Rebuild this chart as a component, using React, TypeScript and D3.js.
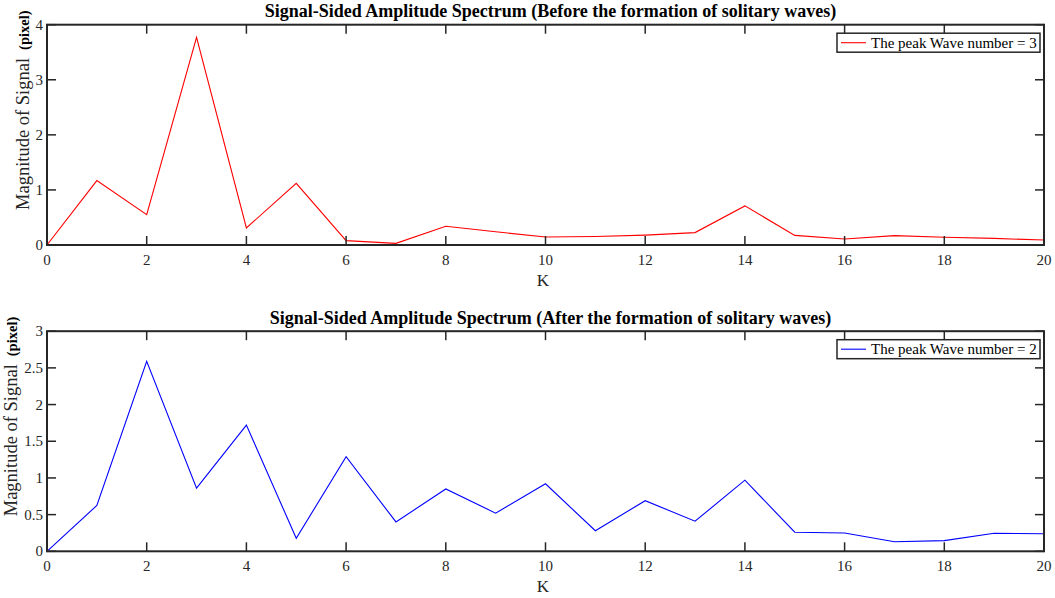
import { useEffect } from "react";
import * as d3 from "d3";

const kValues = d3.range(0, 21);

// amplitude spectrum before the solitary waves form (K = 0..20)
const beforeAmp = [
  0, 1.17, 0.55, 3.77, 0.31, 1.12, 0.08, 0.03, 0.34, 0.24, 0.145, 0.155, 0.18,
  0.225, 0.71, 0.175, 0.11, 0.17, 0.14, 0.12, 0.09,
];

// amplitude spectrum after the solitary waves form
const afterAmp = [
  0, 0.625, 2.59, 0.86, 1.72, 0.177, 1.29, 0.4, 0.85, 0.52, 0.92, 0.28, 0.69,
  0.41, 0.97, 0.26, 0.25, 0.13, 0.145, 0.245, 0.24,
];

const xTicks = [0, 2, 4, 6, 8, 10, 12, 14, 16, 18, 20];
const beforeYTicks = [0, 1, 2, 3, 4];
const afterYTicks = [0, 0.5, 1, 1.5, 2, 2.5, 3];

const titles = [
  "Signal-Sided Amplitude Spectrum (Before the formation of solitary waves)",
  "Signal-Sided Amplitude Spectrum (After the formation of solitary waves)",
];
const legendLabels = ["The peak Wave number = 3", "The peak Wave number = 2"];

const W = 1055;
const H = 598;
const FONT = "'Liberation Serif', 'Times New Roman', serif";
const AX = "#262626";

interface PanelProps {
  values: number[];
  yTicks: number[];
  yMax: number;
  top: number;
  bottom: number;
  color: string;
  title: string;
  legend: string;
  yLabelX: number;
}

function Panel({ values, yTicks, yMax, top, bottom, color, title, legend, yLabelX }: PanelProps) {
  const left = 47;
  const right = 1044;
  const x = d3.scaleLinear().domain([0, 20]).range([left, right]);
  const y = d3.scaleLinear().domain([0, yMax]).range([bottom, top]);
  const line = d3
    .line<number>()
    .x((_, i) => x(kValues[i]))
    .y((d) => y(d));
  const tick = 9;
  const fmt = (v: number) => String(v);

  const lx = 837;
  const ly = top + 8.5;
  const lw = 203;
  const lh = 19;

  return (
    <g>
      <text
        x={(left + right) / 2 + 5}
        y={top - 7.5}
        textAnchor="middle"
        fontWeight="bold"
        fontSize={18}
        fill="#000"
      >
        {title}
      </text>

      <path d={line(values) ?? ""} fill="none" stroke={color} strokeWidth={1.1} />

      {/* ticks on all four sides, pointing inward */}
      {xTicks.map((t) => (
        <g key={"x" + t}>
          <line x1={x(t)} x2={x(t)} y1={bottom} y2={bottom - tick} stroke={AX} strokeWidth={1.5} />
          <line x1={x(t)} x2={x(t)} y1={top} y2={top + tick} stroke={AX} strokeWidth={1.5} />
          <text x={x(t)} y={bottom + 20} textAnchor="middle" fontSize={15} fill={AX}>
            {fmt(t)}
          </text>
        </g>
      ))}
      {yTicks.map((t) => (
        <g key={"y" + t}>
          <line x1={left} x2={left + tick} y1={y(t)} y2={y(t)} stroke={AX} strokeWidth={1.5} />
          <line x1={right} x2={right - tick} y1={y(t)} y2={y(t)} stroke={AX} strokeWidth={1.5} />
          <text x={left - 4} y={y(t) + 5} textAnchor="end" fontSize={15} fill={AX}>
            {fmt(t)}
          </text>
        </g>
      ))}
      <rect
        x={left}
        y={top}
        width={right - left}
        height={bottom - top}
        fill="none"
        stroke={AX}
        strokeWidth={2}
      />

      <text x={543} y={bottom + 41} textAnchor="middle" fontSize={17} fill={AX}>
        K
      </text>

      <text
        transform={`translate(${yLabelX},${bottom - 35}) rotate(-90)`}
        textAnchor="start"
        fontSize={18.5}
        fill={AX}
      >
        Magnitude of Signal
        <tspan dx={8} fontWeight="bold" fontSize={14.5} fill="#000">
          (pixel)
        </tspan>
      </text>

      <rect x={lx} y={ly} width={lw} height={lh} fill="#fff" stroke={AX} strokeWidth={1.5} />
      <line x1={lx + 4} x2={lx + 29} y1={ly + lh / 2} y2={ly + lh / 2} stroke={color} strokeWidth={1.1} />
      <text x={lx + 34} y={ly + lh / 2 + 5} fontSize={15} fill="#000">
        {legend}
      </text>
    </g>
  );
}

export default function App() {
  useEffect(() => {
    document.body.style.margin = "0";
  }, []);

  return (
    <svg
      width={W}
      height={H}
      style={{ position: "absolute", left: 0, top: 0, background: "#fff", fontFamily: FONT }}
    >
      <rect width={W} height={H} fill="#fff" />
      <Panel
        values={beforeAmp}
        yTicks={beforeYTicks}
        yMax={4}
        top={24.7}
        bottom={245}
        color="#ff0000"
        title={titles[0]}
        legend={legendLabels[0]}
        yLabelX={29}
      />
      <Panel
        values={afterAmp}
        yTicks={afterYTicks}
        yMax={3}
        top={331.2}
        bottom={551.3}
        color="#0000ff"
        title={titles[1]}
        legend={legendLabels[1]}
        yLabelX={17}
      />
    </svg>
  );
}
